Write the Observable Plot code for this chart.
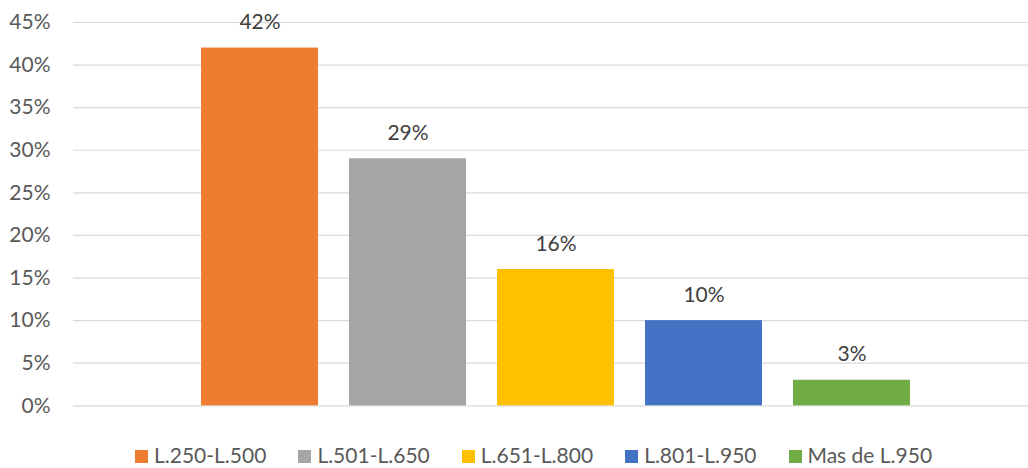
<!DOCTYPE html>
<html>
<head>
<meta charset="utf-8">
<script src="https://cdn.jsdelivr.net/npm/d3@7"></script>
<script src="https://cdn.jsdelivr.net/npm/@observablehq/plot@0.6"></script>
<style>
  html, body { margin: 0; padding: 0; background: #fff; }
  #chart { position: relative; width: 1028px; height: 468px; font-family: Lato, "Open Sans", sans-serif; }
  #chart svg { position: absolute; left: 0; top: 0; }
  .legend { position: absolute; left: 135px; top: 445px; display: flex; align-items: center;
            font-size: 21px; line-height: 20px; color: #595959; white-space: nowrap; }
  .legend .item { display: flex; align-items: center; margin-right: 32px; }
  .legend .sw { width: 13px; height: 13px; margin-right: 6px; margin-top: 3px; }
</style>
</head>
<body>
<div id="chart"></div>
<script>
// Salary ranges and share of respondents in each
const categories = ["L.250-L.500", "L.501-L.650", "L.651-L.800", "L.801-L.950", "Mas de L.950"];
const shares = [0.42, 0.29, 0.16, 0.10, 0.03];
const colors = ["#ED7D31", "#A5A5A5", "#FFC000", "#4472C4", "#70AD47"];
const yTicks = [0, 0.05, 0.10, 0.15, 0.20, 0.25, 0.30, 0.35, 0.40, 0.45];

const data = categories.map((c, i) => ({category: c, share: shares[i]}));
const pct = v => Math.round(v * 100) + "%";

const plot = Plot.plot({
  width: 1028,
  height: 430,
  marginLeft: 73,
  marginRight: 0,
  marginTop: 22,
  marginBottom: 24.7,
  style: {fontFamily: "Lato, 'Open Sans', sans-serif", fontSize: "21px", background: "transparent"},
  x: {type: "band", domain: categories, range: [170, 941], padding: 0.209, axis: null},
  y: {domain: [0, 0.45], axis: null},
  color: {domain: categories, range: colors},
  marks: [
    Plot.gridY(yTicks, {stroke: "#d9d9d9", strokeOpacity: 1, strokeWidth: 1.2}),
    Plot.axisY(yTicks, {tickSize: 0, tickPadding: 23, tickFormat: pct, fill: "#595959", fontSize: 21, anchor: "left", label: null}),
    Plot.barY(data, {x: "category", y: "share", fill: "category"}),
    Plot.text(data, {x: "category", y: "share", text: d => pct(d.share), lineAnchor: "bottom", dy: -19, fill: "#404040", fontSize: 21})
  ]
});

const root = d3.select("#chart");
root.node().appendChild(plot);

const legend = root.append("div").attr("class", "legend");
const items = legend.selectAll(".item").data(categories).join("div").attr("class", "item");
items.append("span").attr("class", "sw").style("background", (d, i) => colors[i]);
items.append("span").text(d => d);
</script>
</body>
</html>
